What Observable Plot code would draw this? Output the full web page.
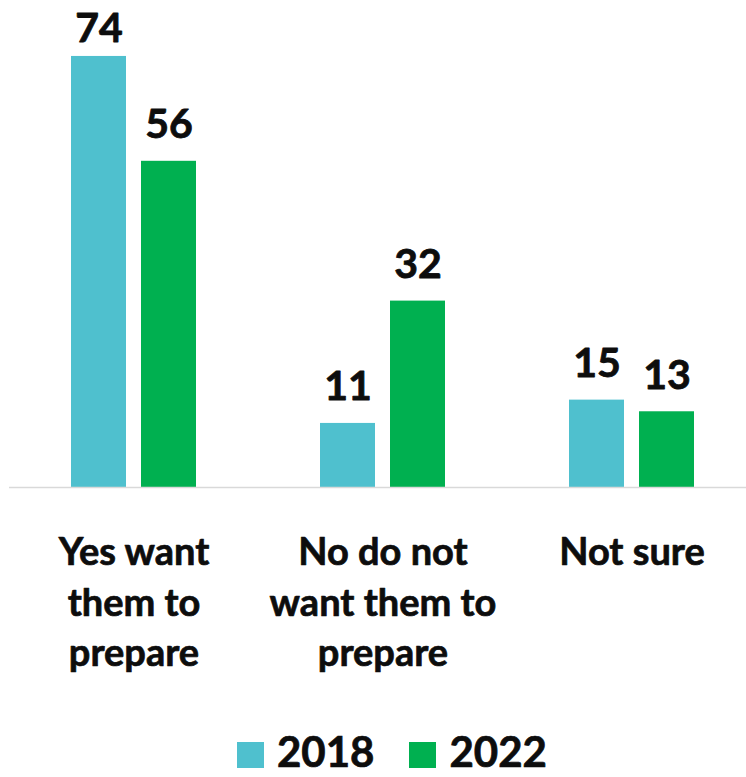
<!DOCTYPE html>
<html>
<head>
<meta charset="utf-8">
<script src="https://cdn.jsdelivr.net/npm/d3@7"></script>
<script src="https://cdn.jsdelivr.net/npm/@observablehq/plot@0.6"></script>
<style>
  html, body { margin: 0; padding: 0; background: #fff; }
  body { width: 746px; height: 777px; overflow: hidden; font-family: Lato, "Open Sans", sans-serif; }
  #chart svg { display: block; }
  .legend { display: flex; align-items: flex-start; padding-left: 237px; margin-top: 2px; height: 38px; }
  .legend .item { display: flex; align-items: flex-start; margin-right: 35px; }
  .legend .swatch { width: 27px; height: 26px; margin-top: 10px; margin-right: 13px; }
  .legend .lbl { font-size: 42px; line-height: 38px; font-weight: 700; color: #0d0d0d; -webkit-text-stroke: 0.7px #0d0d0d; }
</style>
</head>
<body>
<div id="chart"></div>
<script>
const categories = ["Yes want them to prepare", "No do not want them to prepare", "Not sure"];
const categoryLines = ["Yes want\nthem to\nprepare", "No do not\nwant them to\nprepare", "Not sure"];
const years = ["2018", "2022"];
const values2018 = [74, 11, 15];
const values2022 = [56, 32, 13];
const colors = ["#4FC0CE", "#00B050"];
const labelCeiling = 72.5;

const data = categories.flatMap((c, i) => [
  {category: c, year: years[0], value: values2018[i]},
  {category: c, year: years[1], value: values2022[i]}
]);

const chartW = 746, chartH = 730, baseY = 487, topMargin = 21;

const chart = Plot.plot({
  width: chartW,
  height: chartH,
  marginTop: topMargin,
  marginBottom: chartH - baseY,
  marginLeft: 8,
  marginRight: 0,
  style: {fontFamily: "Lato, 'Open Sans', sans-serif", background: "#fff", color: "#0d0d0d"},
  fx: {domain: categories, range: [8, 756.5], padding: 0, label: null},
  x: {domain: years, paddingInner: 15 / 71, paddingOuter: 0.862, axis: null},
  y: {domain: [0, 80], axis: null},
  color: {domain: years, range: colors},
  marks: [
    Plot.barY(data, {fx: "category", x: "year", y: "value", fill: "year"}),
    Plot.ruleY([0], {stroke: "#d9d9d9", strokeWidth: 1.5}),
    Plot.text(data, {
      fx: "category", x: "year",
      y: d => Math.min(d.value, labelCeiling),
      text: d => String(d.value),
      dy: -23, lineAnchor: "bottom",
      fontSize: 41, fontWeight: 700, fill: "#0d0d0d",
      stroke: "#0d0d0d", strokeWidth: 0.8
    }),
    Plot.axisFx({
      anchor: "bottom", tickSize: 0, tickPadding: 41, label: null,
      fontSize: 38, fontWeight: 700, lineHeight: 1.34, fill: "#0d0d0d",
      textStroke: "#0d0d0d", textStrokeWidth: 0.7,
      tickFormat: c => categoryLines[categories.indexOf(c)]
    })
  ]
});
document.getElementById("chart").appendChild(chart);

const legend = document.createElement("div");
legend.className = "legend";
years.forEach((y, i) => {
  const item = document.createElement("div");
  item.className = "item";
  const sw = document.createElement("div");
  sw.className = "swatch";
  sw.style.background = colors[i];
  const lb = document.createElement("div");
  lb.className = "lbl";
  lb.textContent = y;
  item.appendChild(sw);
  item.appendChild(lb);
  legend.appendChild(item);
});
document.body.appendChild(legend);
</script>
</body>
</html>
